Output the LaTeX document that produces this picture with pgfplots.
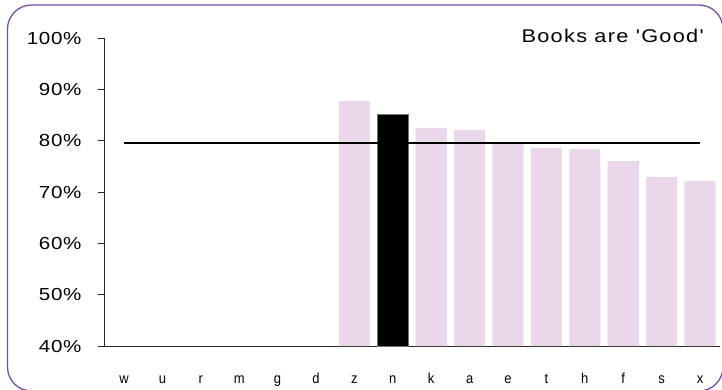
\documentclass[border=0pt]{standalone}
\usepackage{pgfplots}
\pgfplotsset{compat=1.18}
\usepackage{fontspec}
\setmainfont{Liberation Sans}
\newfontfamily\spaced[FakeStretch=1.18, LetterSpace=4]{Liberation Sans}
\newfontfamily\titlefont[FakeStretch=1.18, LetterSpace=7]{Liberation Sans}
\newfontfamily\narrow[FakeStretch=0.9]{Liberation Sans}
\definecolor{barpink}{HTML}{EAD8EA}
\definecolor{framepurple}{HTML}{7A4B9E}
\begin{document}
\begin{tikzpicture}[x=1bp,y=1bp]
\useasboundingbox (0,0) rectangle (722,389);
\draw[framepurple, line width=1.3bp, rounded corners=24bp] (7.5,-2) rectangle (723,384);
\begin{axis}[
  at={(104bp,43bp)}, anchor=south west,
  scale only axis, width=616bp, height=308bp,
  xmin=-0.52, xmax=15.52, ymin=40, ymax=100,
  axis x line=bottom, axis y line=left,
  axis line style={-, black!85, line width=0.8bp},
  xtick={0,...,15},
  xticklabels={w,u,r,m,g,d,z,n,k,a,e,t,h,f,s,x},
  x tick label style={font=\narrow\fontsize{14.5}{16}\selectfont, anchor=base, yshift=-31bp},
  xtick style={draw=none},
  ytick={40,50,...,100},
  yticklabel={\spaced\fontsize{17.5}{20}\selectfont\pgfmathprintnumber{\tick}\%},
  y tick label style={xshift=-13bp},
  ytick style={black!85, line width=0.8bp},
  tick align=outside, major tick length=6bp,
  /pgf/number format/assume math mode=true,
  clip=true,
]
\addplot[ybar, bar width=0.81, bar shift=0, fill=barpink, draw=none]
  coordinates {(6,87.7) (8,82.5) (9,82.1) (10,79.4) (11,78.6) (12,78.4) (13,76.0) (14,72.9) (15,72.1)};
\addplot[ybar, bar width=0.81, bar shift=0, fill=black, draw=black!55, line width=0.8bp]
  coordinates {(7,85.1)};
\addplot[black, line width=1.6bp, mark=none]
  coordinates {(0,79.5) (1,79.5) (2,79.5) (3,79.5) (4,79.5) (5,79.5) (6,79.5) (7,79.5) (8,79.5) (9,79.5) (10,79.5) (11,79.5) (12,79.5) (13,79.5) (14,79.5) (15,79.5)};
\end{axis}
\node[anchor=base east, inner sep=0pt, font=\titlefont\fontsize{18.5}{21}\selectfont] at (704,347) {Books are 'Good'};
\end{tikzpicture}
\end{document}
